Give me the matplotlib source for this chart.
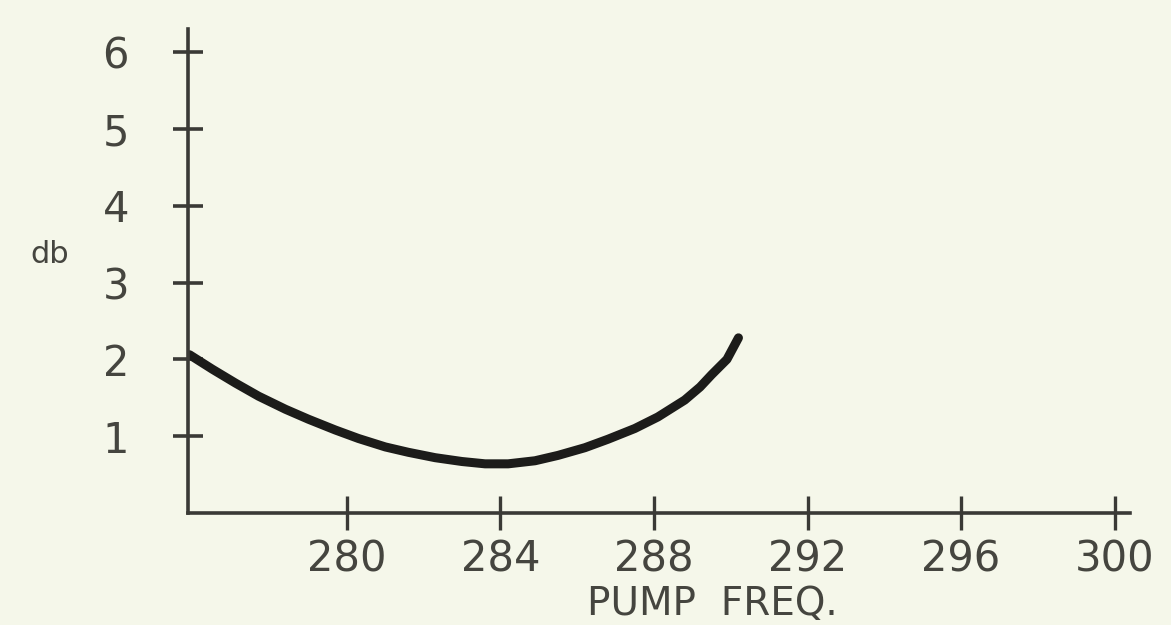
import matplotlib.pyplot as plt

# Gain vs pump frequency
pump_freq = [275.9, 276.5, 277.1, 277.7, 278.4, 279.0, 279.7, 280.3, 281.0,
             281.6, 282.3, 283.0, 283.6, 284.2, 284.9, 285.5, 286.2, 286.8,
             287.5, 288.1, 288.8, 289.2, 289.5, 289.9, 290.2]
gain_db = [2.06, 1.87, 1.69, 1.52, 1.35, 1.22, 1.08, 0.97, 0.86,
           0.79, 0.72, 0.67, 0.64, 0.64, 0.68, 0.75, 0.85, 0.96,
           1.10, 1.25, 1.47, 1.64, 1.80, 2.00, 2.28]

x_ticks = [280, 284, 288, 292, 296, 300]
y_ticks = [1, 2, 3, 4, 5, 6]

paper = '#f5f7ea'
ink = '#3a3a36'
text_col = '#45453f'

fig = plt.figure(figsize=(11.71, 6.25), dpi=100, facecolor=paper)
ax = fig.add_axes([188 / 1171, 112 / 625, 942 / 1171, 484 / 625])
ax.set_facecolor(paper)

ax.plot(pump_freq, gain_db, color='#1c1c1a', linewidth=6.5,
        solid_capstyle='round', solid_joinstyle='round')

ax.set_xlim(275.86, 300.4)
ax.set_ylim(0, 6.3)

for side in ['top', 'right']:
    ax.spines[side].set_visible(False)
for side in ['left', 'bottom']:
    ax.spines[side].set_color(ink)
    ax.spines[side].set_linewidth(2.6)

ax.set_xticks(x_ticks)
ax.set_yticks(y_ticks)
ax.tick_params(axis='x', direction='inout', length=25, width=2.4, color=ink,
               labelsize=30, labelcolor=text_col, pad=6)
ax.tick_params(axis='y', direction='inout', length=21, width=2.6, color=ink,
               labelsize=30, labelcolor=text_col, pad=32)

fig.text(30 / 1171, 1 - 255 / 625, 'db', fontsize=22, color=text_col,
         ha='left', va='center')
fig.text(712 / 1171, 1 - 604 / 625, 'PUMP  FREQ.', fontsize=28, color=text_col,
         ha='center', va='center')

fig.savefig('out.png', dpi=100, facecolor=paper)
